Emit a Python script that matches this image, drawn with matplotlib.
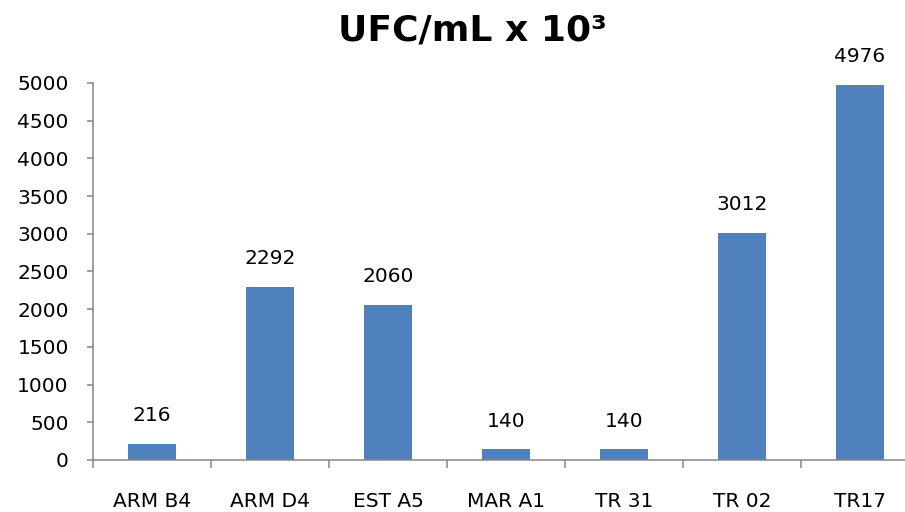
import matplotlib.pyplot as plt

# chart data
categories = ['ARM B4', 'ARM D4', 'EST A5', 'MAR A1', 'TR 31', 'TR 02', 'TR17']
values = [216, 2292, 2060, 140, 140, 3012, 4976]
y_ticks = list(range(0, 5001, 500))

plt.rcParams['font.family'] = ['DejaVu Sans']

fig = plt.figure(figsize=(9.05, 5.12), dpi=100)
# the category axis runs off the right edge, as in the reference
ax = fig.add_axes([0.1028, 0.1016, 0.9127, 0.7363])

x = range(len(categories))
ax.bar(x, values, width=0.407, color='#4F81BD', zorder=2)

# value labels above the bars
for xi, v in zip(x, values):
    ax.annotate(str(v), (xi, v), xytext=(0, 13.5), textcoords='offset points',
                ha='center', va='bottom', fontsize=14.5)

ax.set_xlim(-0.5, len(categories) - 0.5)
ax.set_ylim(0, 5000)
ax.set_yticks(y_ticks)
ax.tick_params(axis='y', labelsize=14.5, length=4.5, width=1.1,
               color='#868686', pad=13)

# ticks between categories, labels centred under bars
ax.set_xticks([i - 0.5 for i in range(len(categories) + 1)])
ax.set_xticklabels([])
ax.set_xticks(list(x), minor=True)
ax.set_xticklabels(categories, minor=True, fontsize=14.5)
ax.tick_params(axis='x', which='major', length=6, width=1.1, color='#868686')
ax.tick_params(axis='x', which='minor', length=0, pad=23)

for side in ['top', 'right']:
    ax.spines[side].set_visible(False)
for side in ['left', 'bottom']:
    ax.spines[side].set_color('#868686')
    ax.spines[side].set_linewidth(1.1)

fig.suptitle('UFC/mL x 10³', fontsize=26, fontweight='bold', x=0.5215, y=0.973)

fig.savefig('out.png', dpi=100)
